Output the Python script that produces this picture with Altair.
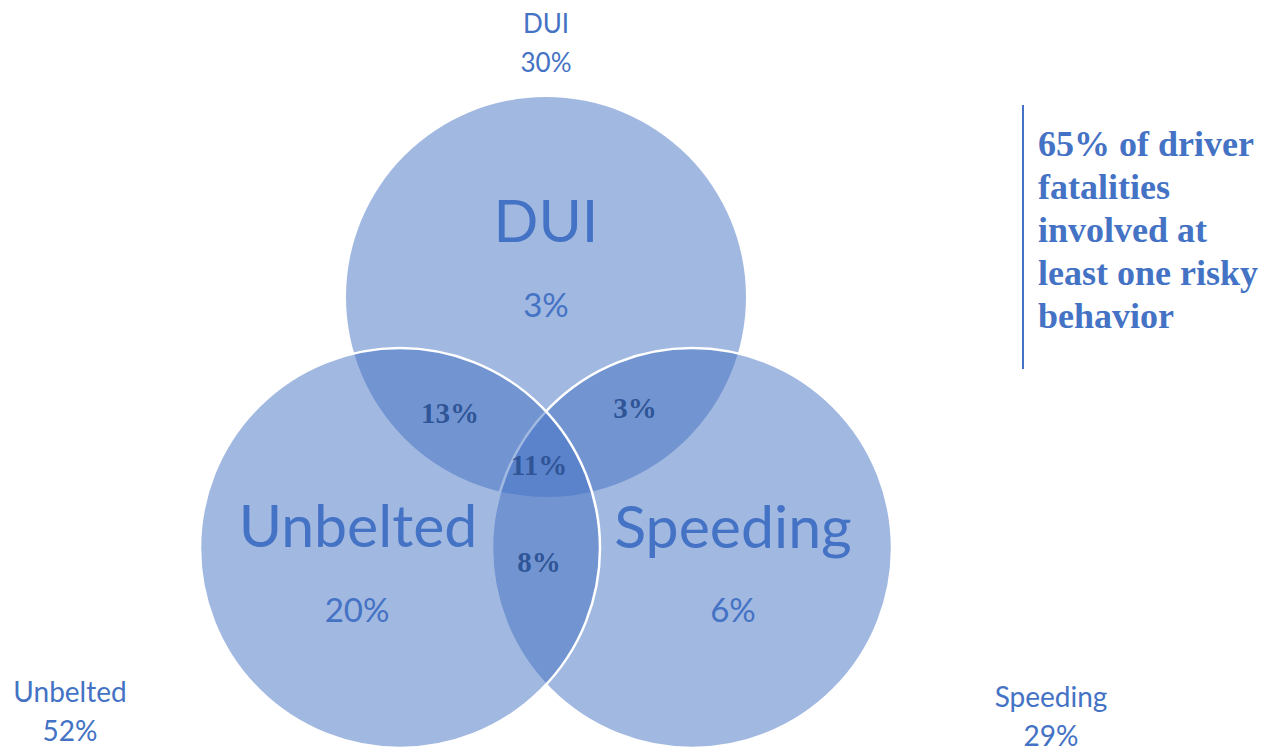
import altair as alt
import pandas as pd

# ---- values ----
sets = ["DUI", "Unbelted", "Speeding"]
set_totals = ["30%", "52%", "29%"]
only_shares = ["3%", "20%", "6%"]
overlap_names = ["DUI & Unbelted", "DUI & Speeding", "All three", "Unbelted & Speeding"]
overlap_shares = ["13%", "3%", "11%", "8%"]
headline_lines = ["65% of driver", "fatalities", "involved at", "least one risky", "behavior"]

# ---- layout (page pixel coordinates) ----
W, H = 1266, 741
xs = alt.Scale(domain=[8, 8 + W], nice=False, zero=False)
ys = alt.Scale(domain=[8 + H, 8], nice=False, zero=False)

BLUE = "#4472C4"
DARK = "#2F5597"
SANS = "Lato"
SERIF = "Liberation Serif"

circle_cx = [546, 400, 692]
circle_cy = [297, 548, 548]
radius = 200

circles = pd.DataFrame({"set": sets, "cx": circle_cx, "cy": circle_cy})


def circle_layer(name, stroke):
    d = circles[circles["set"] == name]
    kw = dict(size=(2 * radius) ** 2, color=BLUE, fillOpacity=0.5, opacity=1)
    if stroke:
        kw.update(stroke="white", strokeWidth=2.5, strokeOpacity=1)
    else:
        kw.update(strokeWidth=0)
    return alt.Chart(d).mark_circle(**kw).encode(
        x=alt.X("cx:Q", scale=xs, axis=None),
        y=alt.Y("cy:Q", scale=ys, axis=None),
    )


def text_layer(df, **mk):
    return alt.Chart(df).mark_text(**mk).encode(
        x=alt.X("x:Q", scale=xs, axis=None),
        y=alt.Y("y:Q", scale=ys, axis=None),
        text="t:N",
    )


big = pd.DataFrame({"t": sets, "x": [546, 358, 733], "y": [242, 547, 548]})
only = pd.DataFrame({"t": only_shares, "x": [546, 357, 733], "y": [317, 622, 622]})
ovl = pd.DataFrame({"t": overlap_shares, "x": [450, 635, 539, 539], "y": [423, 418, 475, 572]})
outer_top = pd.DataFrame({"t": [sets[0] + "\n" + set_totals[0]], "x": [546], "y": [33]})
outer_bot = pd.DataFrame({
    "t": [s + "\n" + v for s, v in zip(sets[1:], set_totals[1:])],
    "x": [70, 1051],
    "y": [702, 707],
})
head = pd.DataFrame({"t": ["\n".join(headline_lines)], "x": [1038], "y": [156]})

rule = alt.Chart(pd.DataFrame({"x": [1023], "y": [105], "y2": [369]})).mark_rule(
    color=BLUE, strokeWidth=2
).encode(
    x=alt.X("x:Q", scale=xs, axis=None),
    y=alt.Y("y:Q", scale=ys, axis=None),
    y2="y2:Q",
)

chart = alt.layer(
    circle_layer("DUI", False),
    circle_layer("Speeding", True),
    circle_layer("Unbelted", True),
    text_layer(big, font=SANS, fontSize=59, color=BLUE, align="center", baseline="alphabetic"),
    text_layer(only, font=SANS, fontSize=33, color=BLUE, align="center", baseline="alphabetic"),
    text_layer(ovl, font=SERIF, fontSize=29, fontWeight="bold", color=DARK, align="center", baseline="alphabetic"),
    text_layer(outer_top, font=SANS, fontSize=26, color=BLUE, align="center", baseline="alphabetic",
               lineBreak="\n", lineHeight=39),
    text_layer(outer_bot, font=SANS, fontSize=28, color=BLUE, align="center", baseline="alphabetic",
               lineBreak="\n", lineHeight=39),
    text_layer(head, font=SERIF, fontSize=36, fontWeight="bold", color=BLUE, align="left",
               baseline="alphabetic", lineBreak="\n", lineHeight=43),
    rule,
).properties(
    width=W, height=H, padding=0, autosize=alt.AutoSizeParams(type="none")
).configure_view(stroke=None)

chart.save("out.html", embed_options={"renderer": "svg", "actions": False})
